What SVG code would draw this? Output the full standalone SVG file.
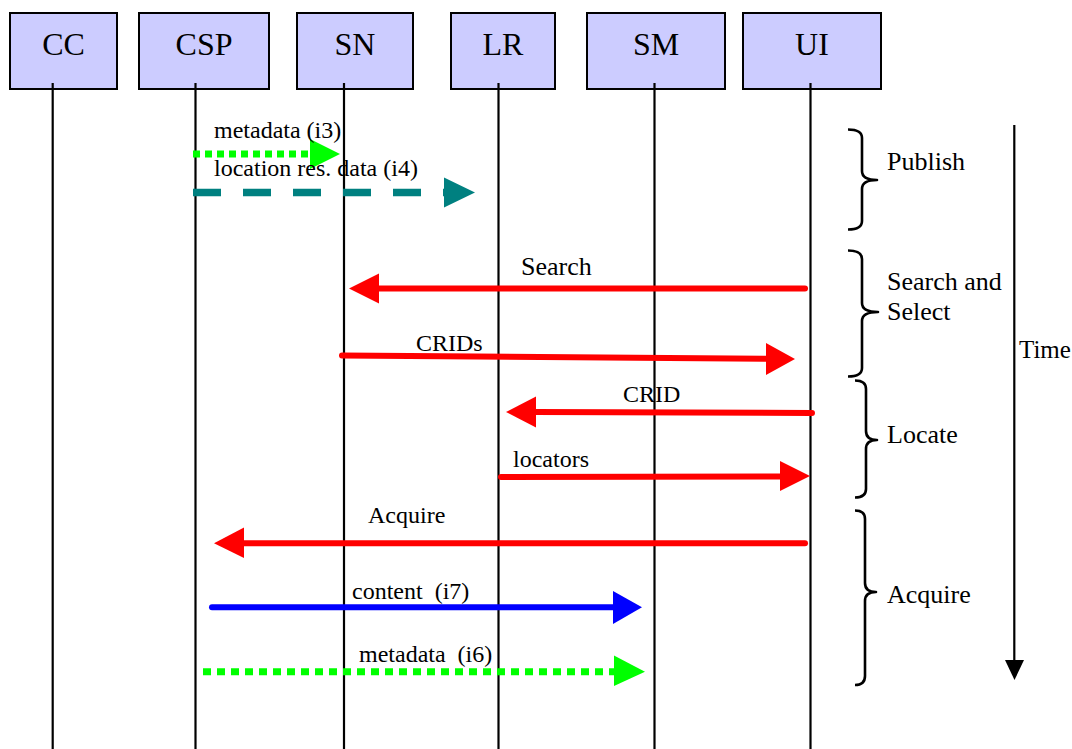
<svg xmlns="http://www.w3.org/2000/svg" width="1072" height="749" viewBox="0 0 1072 749">
<style>
.box{fill:#CCCCFF;stroke:#000;stroke-width:2}
.bl{font-family:"Liberation Serif","Times New Roman",serif;font-size:32px;fill:#000;text-anchor:middle}
.life{stroke:#000;stroke-width:2.2;fill:none}
.lbl{font-family:"Liberation Serif","Times New Roman",serif;font-size:24px;fill:#000}
.grp{font-family:"Liberation Serif","Times New Roman",serif;font-size:26px;fill:#000}
.red{stroke:#FF0000;stroke-width:6;stroke-linecap:round;fill:none}
.blue{stroke:#0000FF;stroke-width:6;stroke-linecap:round;fill:none}
.green{stroke:#00FF00;stroke-width:7;fill:none}
.teal{stroke:#008080;stroke-width:7.5;fill:none;stroke-dasharray:28 22}
.hr{fill:#FF0000}.hb{fill:#0000FF}.hg{fill:#00FF00}.ht{fill:#008080}.hk{fill:#000}
.brace{stroke:#000;stroke-width:2.6;fill:none;stroke-linejoin:round}
</style>
<g id="node-CC"><rect class="box" x="10" y="13" width="107" height="76"/><text class="bl" x="63.5" y="55">CC</text></g>
<g id="node-CSP"><rect class="box" x="139" y="13" width="130" height="76"/><text class="bl" x="204" y="55">CSP</text></g>
<g id="node-SN"><rect class="box" x="297" y="13" width="116" height="76"/><text class="bl" x="355" y="55">SN</text></g>
<g id="node-LR"><rect class="box" x="451" y="13" width="104" height="76"/><text class="bl" x="503" y="55">LR</text></g>
<g id="node-SM"><rect class="box" x="587" y="13" width="138" height="76"/><text class="bl" x="656" y="55">SM</text></g>
<g id="node-UI"><rect class="box" x="743" y="13" width="138" height="76"/><text class="bl" x="812" y="55">UI</text></g>
<g id="lifelines">
<line class="life" x1="52.7" y1="83" x2="52.7" y2="749"/>
<line class="life" x1="195.5" y1="83" x2="195.5" y2="749"/>
<line class="life" x1="344" y1="83" x2="344" y2="749"/>
<line class="life" x1="498.5" y1="83" x2="498.5" y2="749"/>
<line class="life" x1="654.5" y1="83" x2="654.5" y2="749"/>
<line class="life" x1="810.5" y1="83" x2="810.5" y2="749"/>
</g>
<g id="connectors">
<line class="green" x1="193" y1="154" x2="310" y2="154" stroke-dasharray="7 5"/>
<polygon class="hg" points="310,139 340,154 310,169"/>
<text class="lbl" x="214" y="137.5">metadata (i3)</text>
<line class="teal" x1="193" y1="192.5" x2="444" y2="192.5"/>
<polygon class="ht" points="444,177.5 475,192.5 444,207.5"/>
<text class="lbl" x="214" y="176">location res. data (i4)</text>
<line class="red" x1="805" y1="288.5" x2="378" y2="288.5"/>
<polygon class="hr" points="379,273.5 349,288.5 379,303.5"/>
<text class="grp" x="521" y="275">Search</text>
<line class="red" x1="342" y1="355.5" x2="767" y2="358.8"/>
<polygon class="hr" points="766,343 795,359 766,375"/>
<text class="lbl" x="416" y="351">CRIDs</text>
<line class="red" x1="812" y1="413" x2="535" y2="412"/>
<polygon class="hr" points="536,396.5 506,412 536,427.5"/>
<text class="lbl" x="623" y="402">CRID</text>
<line class="red" x1="501" y1="477" x2="781" y2="476.5"/>
<polygon class="hr" points="780,461 810,476 780,491"/>
<text class="lbl" x="513" y="467">locators</text>
<line class="red" x1="805" y1="543.3" x2="243" y2="543.3"/>
<polygon class="hr" points="244,527.5 214,543.3 244,558"/>
<text class="lbl" x="368" y="523">Acquire</text>
<line class="blue" x1="212" y1="607.3" x2="614" y2="607.3"/>
<polygon class="hb" points="613,591 642,607.3 613,624"/>
<text class="lbl" x="352" y="599" xml:space="preserve">content  (i7)</text>
<line class="green" x1="203" y1="671.7" x2="614" y2="671.7" stroke-dasharray="8 6"/>
<polygon class="hg" points="614,655.5 645,671.7 614,686"/>
<text class="lbl" x="359" y="662" xml:space="preserve">metadata  (i6)</text>
</g>
<g id="phases">
<path class="brace" d="M848,129.5 Q862,129.5 862,138 L862,171 Q862,180 877,180 Q862,180 862,189 L862,221 Q862,229.5 848,229.5"/>
<text class="grp" x="887" y="170">Publish</text>
<path class="brace" d="M848,250.5 Q862,250.5 862,259 L862,303 Q862,312 878,312 Q862,312 862,321 L862,368 Q862,376.5 848,376.5"/>
<text class="grp" x="887" y="290">Search and</text>
<text class="grp" x="887" y="320">Select</text>
<path class="brace" d="M855,380.5 Q866,380.5 866,389 L866,431 Q866,440 877,440 Q866,440 866,449 L866,489 Q866,497.5 855,497.5"/>
<text class="grp" x="887" y="443">Locate</text>
<path class="brace" d="M855,510.5 Q865,510.5 865,519 L865,583 Q865,592 876,592 Q865,592 865,601 L865,676 Q865,685 855,685"/>
<text class="grp" x="887" y="603">Acquire</text>
</g>
<g id="time">
<line class="life" x1="1014.3" y1="125" x2="1014.3" y2="662"/>
<polygon class="hk" points="1005,660 1024,660 1014.5,680"/>
<text class="grp" x="1019" y="358" style="font-size:25px">Time</text>
</g>
</svg>
